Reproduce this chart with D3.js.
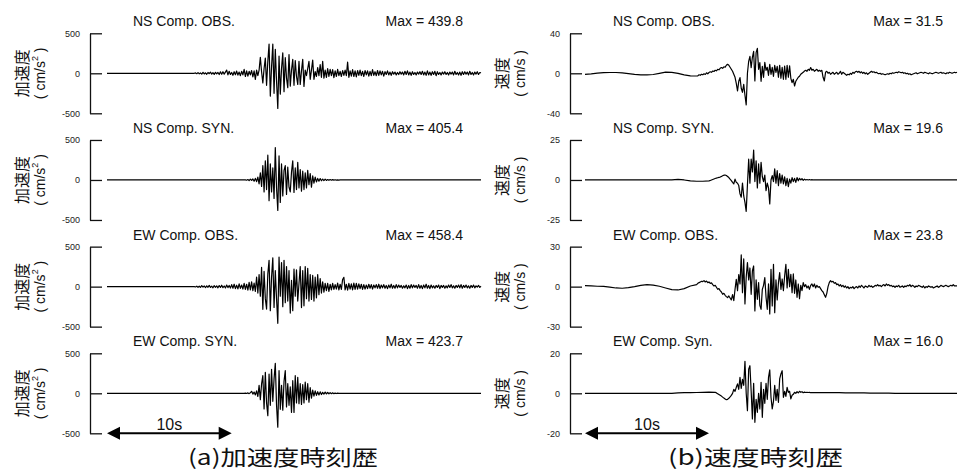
<!DOCTYPE html>
<html>
<head>
<meta charset="utf-8">
<script src="https://cdn.jsdelivr.net/npm/d3@7"></script>
<style>
  body { margin: 0; background: #fff; }
  svg { display: block; }
</style>
</head>
<body>
<svg id="chart" width="966" height="471"></svg>
<script>
// sample steps (s): slow = quiet parts, fast = strong motion part
var DT_SLOW = 0.5;
var DT_FAST = 0.1;
var T_END = 30;

var accTitles = ["NS Comp. OBS.", "NS Comp. SYN.", "EW Comp. OBS.", "EW Comp. SYN."];
var accMaxLabels = ["439.8", "405.4", "458.4", "423.7"];
var accLimits = [500, 500, 500, 500];

var velTitles = ["NS Comp. OBS.", "NS Comp. SYN.", "EW Comp. OBS.", "EW Comp. Syn."];
var velMaxLabels = ["31.5", "19.6", "23.8", "16.0"];
var velLimits = [40, 25, 30, 20];

var captions = ["(a)加速度時刻歴", "(b)速度時刻歴"];
var scaleBarSeconds = 10;

// ---- acceleration (cm/s2) ----
// pre: from 0 s every DT_SLOW, main: every DT_FAST, post: every DT_SLOW
var nsObsAccPre = [0,0,0,0,0,0,0,0,0,0,0,0,0,0];
var nsObsAcc = [
  0,5,-5,8,-6,4,-10,12,-8,6,-12,10,-5,15,-10,8,-14,12,-6,10,-15,18,-12,20,-10,
  15,40,-20,25,-15,10,-25,20,-18,28,-22,15,-30,25,-20,
  50,-40,30,-35,25,-20,35,-45,30,-75,40,-30,
  40,200,20,-120,60,190,-150,150,
  365,-285,80,365,-250,300,-100,-440,215,-260,
  60,255,-230,195,-60,-180,235,-160,40,175,
  -150,160,-40,-140,150,-140,30,175,-165,40,
  -30,60,150,-75,40,165,-75,20,-40,70,
  -30,110,-50,150,-60,40,-50,60,-40,50,
  -30,45,-55,30,-40,50,-30,25,-40,35,
  -25,40,-30,140,-50,30,
  -35,45,-40,30,-45,35,-25,40,-30,25,
  -40,35,-20,30,-35,25,-30,45,-25,20,
  -30,35,-25,30,-20,25,-35,20,-15,30,
  -20,15,-25,20,-10,15,-20,10,-15,20,
  -10,15,-20,25,-15,30,-20,15,-25,20,
  -15,10,-20,15,-10,20,-15,25,-20,15,
  -25,30,-20,15,-25,20,-15,25,-30,20,
  -15,10,-20,15,-10,20,-15,10,-20,15,
  -10,15,-20,25,-15,10,-20,15,-25,20,
  -15,20,-10,15,-20,25,-15,10,-20,15,
  -10,20,-15,10,5
];
var nsObsAccPost = [];

var nsSynAccPre = [0,0,0,0,0,0,0,0,0,0,0,0,0,0,0,0,0,0,0,0,0,0];
var nsSynAcc = [
  0,2,-3,5,-8,10,-6,12,-15,20,
  -20,35,-50,90,-80,180,-150,240,-120,310,
  -260,200,-150,150,-230,405,-100,-380,300,-280,
  200,-200,120,180,-180,160,-90,-150,100,240,
  -155,150,-120,220,-100,130,-140,110,-120,90,
  -100,120,-60,80,-90,50,-40,35,-25,20,
  -15,18,-10,12,-8,10,-6,5,-4,6,
  -3,4,-2,3,-2,2,-1,1,0,0
];
var nsSynAccPost = [0,0,0,0,0,0,0,0,0,0,0,0,0,0,0,0,0,0,0,0,0,0,0];

var ewObsAccPre = [0,0,0,0,0,0,0,0,0,0,0,0,0,0];
var ewObsAcc = [
  0,-4,6,-8,5,-10,12,-6,8,-12,10,-8,15,-10,6,-14,12,-8,10,-15,14,-10,18,-12,8,-16,20,-12,15,-18,
  25,-20,30,-25,18,-28,35,-22,20,-30,
  40,-35,30,-45,55,-40,60,-50,45,-60,
  120,-80,150,-120,240,-283,190,-150,-280,160,
  330,-300,120,360,-260,200,-150,-458,370,-120,
  300,-250,330,-200,250,-180,200,-330,80,-300,
  220,-120,210,-180,40,250,-262,200,-240,250,
  -150,230,-180,150,-160,140,-180,120,-140,150,
  -100,100,-80,60,-70,40,-50,40,-60,30,
  -40,40,-35,25,-30,45,-40,30,-35,90,
  116,-40,30,-45,40,-30,35,-40,45,-35,
  40,-30,35,-25,30,-35,25,-30,20,-25,
  30,-20,25,-30,20,-15,25,-20,30,-25,
  20,-15,25,-20,15,-25,20,-15,30,-20,
  15,-20,25,-15,20,-10,15,-20,10,-15,
  20,-25,15,-20,25,-15,20,-10,15,-20,
  25,-20,15,-25,20,-15,30,-20,15,-25,
  20,-15,10,-20,15,-10,20,-25,15,-10,
  15,-20,10,-15,20,-10,25,-15,10,-20,
  15,-10,20,-15,25,-20,15,-10,20,-15,
  10,-20,15,-10,20,-15,10,-5,15,-10,
  5
];
var ewObsAccPost = [];

var ewSynAccPre = [0,0,0,0,0,0,0,0,0,0,0,0,0,0,0,0,0,0,0,0,0,0];
var ewSynAcc = [
  0,3,-2,5,-4,8,25,-10,15,-20,
  30,-40,100,-80,117,220,-196,263,-120,-280,
  240,-150,300,-100,180,375,-150,-424,283,-200,
  100,-210,150,283,-170,120,-150,80,-238,158,
  -240,220,-120,200,-130,120,-140,110,-120,140,
  -80,120,-110,70,-60,40,-35,30,-25,20,
  -20,18,-15,12,-10,15,-8,10,-6,8,
  -5,6,-4,3,-3,2,-1,1,0,0
];
var ewSynAccPost = [0,0,0,0,0,0,0,0,0,0,0,0,0,0,0,0,0,0,0,0,0,0,0];

// ---- velocity (cm/s) ----
var nsObsVelPre = [-1,-0.5,0.2,0.6,0.8,0.8,0.4,-0.3,-1,-1.5,-1.6,-1.2,0,1.2,1,0,-1.5,-2.5];
var nsObsVel = [
  -2.7,-2.5,-1.5,-2,-1,-1.5,-0.5,-1.2,0.5,-0.5,
  0.8,1.5,1,2.3,1.8,3,2.5,4,3.5,5,
  5.7,5,6.5,6,8,9,8,6,4,2,
  -1,-4,-10,-17.7,-8,-4.3,-15,-19,-11,-22,
  -31.5,0,12,17,5.7,16,22,-7.7,20.7,25,
  4,10.7,-8,7,-4,11,3,6,-2,9,
  -1,6,-3,8,1,7,-4,8,-5,6,
  -6,7.3,-6,8,-4,7.5,-5,-9.3,-6,-12.7,
  -8,-6,-4,-3,-1,0,1,2.3,3,2,
  4,3,5.7,3,4,2,3,4,2,3,
  2,3,-4,-7.7,1,2,0,1,-1,0,
  1,-1,0,1,-1,0,2,-1,1,0,
  -1,-2,-1,-1.5,0,-1,1,0,1.5,2,
  1,2,0.5,1.5,0,1,-0.5,0.5,-1,0,
  1,2,1,1.5,0.5,1,0,-0.5,0,-1,
  -0.5,-1,-1.5,-1,-0.5,-1,0,-0.5,0.5,0,
  0.5,1,0.5,1.5,1,0.5,1,0,0.5,-0.5,
  0,-1,-0.5,-1.5,-1,-0.5,0,0.5,-0.5,0,
  0.5,1,0.5,0,1,0.5,0,-0.5,0.5,0,
  -0.5,0,0.5,1,0.5,0,0.5,1,0,0.5,
  0,-0.5,0.5,0,1,0.5,0,0.5,1,0.5,
  1
];
var nsObsVelPost = [];

var nsSynVelPre = [0,0,0,0,0,0,0,0,0,0,0,0,0,0,0,0.4,0,-0.6,-0.8,-0.8];
var nsSynVel = [
  -0.6,-0.3,0,0.3,0.6,0.9,1.2,1.4,1.6,1.8,
  2.2,2.6,3,3.1,2.8,2.2,1.5,0.5,-0.4,-1.5,
  -2.5,0.5,-1.5,-2,-3.5,-8.7,-10.8,-2,-10,-14,
  -19.6,-3,13,-2,13,5,18.7,-1,12,-5,
  10,-2,11,2,-1,3,-6.7,-2,-5,-15,
  0,2.7,-1,6.9,-2,5.8,-3.5,4,-2,3,
  -2.5,2,-3.5,1,-4.2,0.5,-2,1.5,-1,1,
  -1.5,1.5,-0.5,1,0,0.8,-0.3,0.5,0,0.3,
  0,0.3,0,0.2,0,0,0.1,0,0,0
];
var nsSynVelPost = [0,0,0,0,0,0,0,0,0,0,0,0,0,0,0,0,0,0,0,0,0,0,0];

var ewObsVelPre = [0.75,0.5,0.3,0.2,-0.3,-1,-1.2,-0.8,0,1,1.5,1.2,0.3,-1,-2.2,-2.5,-1.5,0.5];
var ewObsVel = [
  1.5,2.5,3,3.5,4,3.8,4.5,3.5,4.2,3,
  3.5,2.5,2.8,1.5,0.5,1,-0.5,-2,-1.5,-3,
  -4,-5.75,-5,-6.5,-7.5,-8.25,-7,-8.5,-10,-6,
  -10.5,-2,5.5,-3,9,2,23.8,-4.5,20.8,-13,
  7,18,5,14,-5.75,11.75,15.5,-18.25,5,-9.5,
  3,-14,-17,-2,1,6.75,-8,-17,2,-20.5,
  13,-14.5,16.75,-19.5,5,-10,3,10.5,-2,5.75,
  -3,8,16.75,-1,13,0,9.25,-4.5,9.5,-5,
  5,-8,2,-9,1,-3,3,0,1.5,-1,
  0.5,-2,1,2,0,2,-1,1,-0.5,0,
  -1.5,-3,-4,-6,-8,-5,0,3,4.5,3.5,
  4,2.5,3,1.5,2,0.5,1.5,0,1,-0.5,
  0.5,-1,0,-1.5,-0.5,-1,0,-1.5,-0.5,0,
  -1,0.5,-0.5,1,0,-1,0.5,0,-0.5,1,
  0,0.5,-0.5,0,1,0.5,1.5,0.5,1,0,
  1,1.5,0.5,2,1,1.5,0.5,1,0,0.5,
  -0.5,0.5,0,1,-0.5,0,0.5,-0.5,0.5,0,
  1,0.5,1.5,0,1,0.5,-0.5,0.5,0,1,
  0.5,0,-0.5,0.5,-1,0,-0.5,0.5,0,-0.5,
  0,-1,-0.5,0,0.5,-0.5,0,1,0.5,0,
  0.5,1,0.5,0,0.5,1,0.5,1.5,0.5,0.5,
  0.5
];
var ewObsVelPost = [];

var ewSynVelPre = [0,0,0,0,0,0,0,0,0,0,0,0,0,0,0,0.2,0.3,0.3,0.4,0.5,0.6];
var ewSynVel = [
  0.5,0.2,-0.2,-0.6,-1,
  -1.4,-1.9,-2.4,-2.8,-3.2,-3,-2.5,-1.8,-1,0,
  2,1,3,4.7,2,8,2.5,7,4,16,
  0,-8.7,12,13.8,1,-12.8,5,-14.5,-3,-9.5,
  0,-7.8,5.5,-12,2,-5,5,-3,8,11.7,
  -2,-7.8,-4,4,-3.5,2,-4.5,7.2,9.7,11.3,
  -2,1,-1.5,3,0.5,1,-2.8,-1,-0.5,0.5,
  0,0.8,0.2,1,0.5,0.8,0.3,0.6,0.4,0.5,
  0.4,0.5,0.3,0.4,0.3,0.3,0.4,0.3,0.3,0.3
];
var ewSynVelPost = [0.3,0.3,0.3,0.3,0.2,0.2,0.2,0.2,0.1,0.1,0.1,0.1,0,0,0,0,0,0,0,0,0,0,0];

var accTraces = [
  [nsObsAccPre, nsObsAcc, nsObsAccPost],
  [nsSynAccPre, nsSynAcc, nsSynAccPost],
  [ewObsAccPre, ewObsAcc, ewObsAccPost],
  [ewSynAccPre, ewSynAcc, ewSynAccPost]
];
var velTraces = [
  [nsObsVelPre, nsObsVel, nsObsVelPost],
  [nsSynVelPre, nsSynVel, nsSynVelPost],
  [ewObsVelPre, ewObsVel, ewObsVelPost],
  [ewSynVelPre, ewSynVel, ewSynVelPost]
];

// join the three pieces into [t, v] pairs
function toPoints(parts){
  var pts = [];
  var t0 = 0;
  parts[0].forEach(function(v, i){ pts.push([t0 + i * DT_SLOW, v]); });
  t0 = parts[0].length * DT_SLOW;
  parts[1].forEach(function(v, i){ pts.push([t0 + i * DT_FAST, v]); });
  t0 = t0 + parts[1].length * DT_FAST;
  parts[2].forEach(function(v, i){ pts.push([t0 + i * DT_SLOW, v]); });
  return pts.filter(function(p){ return p[0] <= T_END + 1e-6; });
}

var svg = d3.select("#chart");
var LATIN = "'Liberation Sans', Arial, sans-serif";
var JP = "'Noto Sans CJK JP', sans-serif";

var rowTop = 33.3, rowStep = 106.67, rowHeight = 80;

var columns = [
  { axisX: 90, plot: [107, 481], titles: accTitles, maxLabels: accMaxLabels, limits: accLimits,
    traces: accTraces, quantity: "加速度", unit: "cm/s", sup: "2", dx: 0, caption: captions[0] },
  { axisX: 570, plot: [585, 957], titles: velTitles, maxLabels: velMaxLabels, limits: velLimits,
    traces: velTraces, quantity: "速度", unit: "cm/s", sup: null, dx: 480, caption: captions[1] }
];

columns.forEach(function(col){
  var x = d3.scaleLinear().domain([0, T_END]).range(col.plot);

  col.titles.forEach(function(title, r){
    var top = rowTop + r * rowStep;
    var lim = col.limits[r];
    var y = d3.scaleLinear().domain([-lim, lim]).range([top + rowHeight, top]);
    var g = svg.append("g");

    // y axis: bracket with inward ticks
    var axis = d3.axisLeft(y)
      .tickValues([-lim, 0, lim])
      .tickSizeInner(-12)
      .tickSizeOuter(0)
      .tickPadding(10)
      .tickFormat(function(d){ return String(d); });

    var ag = g.append("g")
      .attr("transform", "translate(" + col.axisX + ",0)")
      .call(axis);
    ag.select(".domain").attr("stroke", "#111").attr("stroke-width", 1.3);
    ag.selectAll(".tick line").attr("stroke", "#111").attr("stroke-width", 1.3);
    ag.selectAll(".tick text")
      .attr("fill", "#222")
      .style("font-family", LATIN)
      .style("font-size", "9px");

    // waveform
    var line = d3.line()
      .x(function(d){ return x(d[0]); })
      .y(function(d){ return y(d[1]); });

    g.append("path")
      .datum(toPoints(col.traces[r]))
      .attr("fill", "none")
      .attr("stroke", "#000")
      .attr("stroke-width", 1.2)
      .attr("stroke-linejoin", "round")
      .attr("d", line);

    // titles
    g.append("text")
      .attr("x", col.dx + 133)
      .attr("y", top - 7)
      .attr("fill", "#111")
      .style("font-family", LATIN)
      .style("font-size", "14px")
      .text(title);

    g.append("text")
      .attr("x", col.dx + 463)
      .attr("y", top - 7)
      .attr("text-anchor", "end")
      .attr("fill", "#111")
      .style("font-family", LATIN)
      .style("font-size", "14px")
      .text("Max = " + col.maxLabels[r]);

    // y labels (vertical)
    var mid = top + rowHeight / 2;
    g.append("text")
      .attr("transform", "translate(" + (col.dx + 21) + "," + mid + ") rotate(-90)")
      .attr("text-anchor", "middle")
      .attr("dominant-baseline", "central")
      .attr("fill", "#111")
      .style("font-family", JP)
      .style("font-size", "16px")
      .text(col.quantity);

    var u = g.append("text")
      .attr("transform", "translate(" + (col.dx + 40) + "," + mid + ") rotate(-90)")
      .attr("text-anchor", "middle")
      .attr("dominant-baseline", "central")
      .attr("fill", "#111")
      .style("font-family", LATIN)
      .style("font-size", "14px");
    u.append("tspan").text("( " + col.unit);
    if (col.sup){
      u.append("tspan").attr("dy", -5).style("font-size", "9px").text(col.sup);
      u.append("tspan").attr("dy", 5).text(" )");
    } else {
      u.append("tspan").text(" )");
    }
  });

  // 10 s scale bar under the last row
  var barY = rowTop + 3 * rowStep + rowHeight;
  var xa = x(0), xb = x(scaleBarSeconds);
  var bar = svg.append("g");
  bar.append("line")
    .attr("x1", xa + 10).attr("x2", xb - 10)
    .attr("y1", barY).attr("y2", barY)
    .attr("stroke", "#000").attr("stroke-width", 2);
  bar.append("path")
    .attr("d", "M" + xa + "," + barY + "L" + (xa + 13) + "," + (barY - 6.5) + "L" + (xa + 13) + "," + (barY + 6.5) + "Z")
    .attr("fill", "#000");
  bar.append("path")
    .attr("d", "M" + xb + "," + barY + "L" + (xb - 13) + "," + (barY - 6.5) + "L" + (xb - 13) + "," + (barY + 6.5) + "Z")
    .attr("fill", "#000");
  bar.append("text")
    .attr("x", (xa + xb) / 2)
    .attr("y", barY - 3)
    .attr("text-anchor", "middle")
    .attr("fill", "#111")
    .style("font-family", LATIN)
    .style("font-size", "16px")
    .text(scaleBarSeconds + "s");

  // caption
  var capLen = col.sup ? 190 : 175;
  svg.append("text")
    .attr("x", col.dx + 188)
    .attr("y", 465)
    .attr("textLength", capLen)
    .attr("lengthAdjust", "spacingAndGlyphs")
    .attr("fill", "#111")
    .style("font-family", JP)
    .style("font-size", "21px")
    .text(col.caption);
});
</script>
</body>
</html>
